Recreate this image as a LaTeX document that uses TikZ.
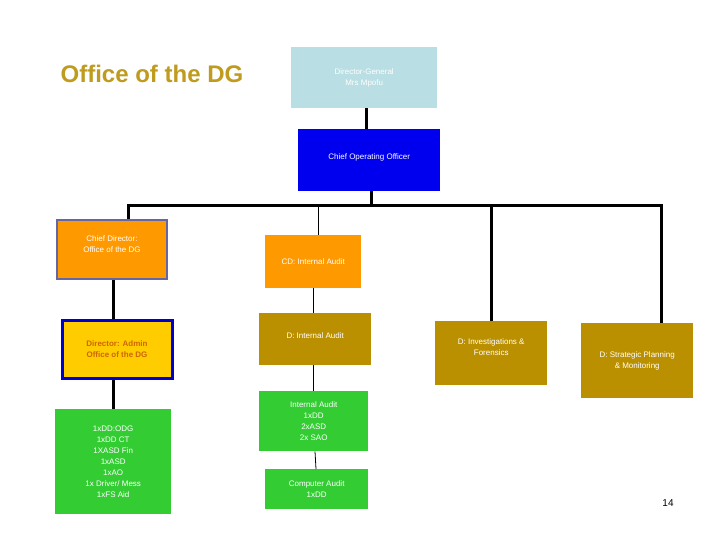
\documentclass[tikz,border=0pt]{standalone}
\usepackage{fontspec}
\setmainfont{Liberation Sans}
\definecolor{gold}{HTML}{BF9B1E}
\definecolor{lblue}{HTML}{B9DEE3}
\definecolor{cblue}{HTML}{0000EE}
\definecolor{orng}{HTML}{FF9900}
\definecolor{yel}{HTML}{FFCC00}
\definecolor{brn}{HTML}{BB9000}
\definecolor{grn}{HTML}{33CC33}
\begin{document}
\begin{tikzpicture}[x=1pt,y=-1pt,
  box/.style={minimum width=#1,inner sep=1pt,align=center,text=white,font=\fontsize{8}{11}\selectfont,anchor=north west},
  thick line/.style={line width=3pt},
  thin line/.style={line width=0.8pt}]
\useasboundingbox[fill=white] (0,0) rectangle (720,540);
\node[font=\bfseries\fontsize{24}{28}\selectfont,text=gold] (title) at (152,74) {Office of the DG};
\node[fill=lblue,box=146pt,minimum height=61pt] (dg) at (291,47) {Director-General\\Mrs Mpofu};
\node[fill=cblue,box=142pt,minimum height=62pt,text depth=8pt] (coo) at (298,129) {Chief Operating Officer};
\node[fill=orng,draw=black!60!blue!60,line width=2pt,box=110pt,minimum height=59pt,text depth=10pt] (cdodg) at (56,219) {Chief Director:\\Office of the DG};
\node[fill=yel,draw=blue!80!black,line width=3pt,box=110pt,minimum height=58pt,text=orange!80!black,font=\bfseries\fontsize{8}{11}\selectfont] (adm) at (60.5,318.5) {Director: Admin\\Office of the DG};
\node[fill=grn,box=116pt,minimum height=105pt] (staff) at (55,409) {1xDD:ODG\\1xDD CT\\1XASD Fin\\1xASD\\1xAO\\1x Driver/ Mess\\1xFS Aid};
\node[fill=orng,box=96pt,minimum height=53pt,text depth=-6pt] (cdia) at (265,235) {CD: Internal Audit};
\node[fill=brn,box=112pt,minimum height=52pt,text depth=8pt] (dia) at (259,313) {D: Internal Audit};
\node[fill=grn,box=109pt,minimum height=60pt] (ia) at (259,391) {Internal Audit\\1xDD\\2xASD\\2x SAO};
\node[fill=grn,box=103pt,minimum height=40pt] (ca) at (265,469) {Computer Audit\\1xDD};
\node[fill=brn,box=112pt,minimum height=64pt,text depth=12pt] (inv) at (435,321) {D: Investigations \&\\Forensics};
\node[fill=brn,box=112pt,minimum height=75pt] (sp) at (581,323) {D: Strategic Planning\\\& Monitoring};
\node[font=\fontsize{10}{12}\selectfont] (pg) at (668,503) {14};
\coordinate (b1) at (371,206);
\coordinate (bl) at (127,206);
\coordinate (br) at (663,206);
\draw[thick line] (dg.south -| 366,0) -- (coo.north -| 366,0);
\draw[thick line] (coo.south -| 371,0) -- (b1);
\draw[thick line] (bl) -- (br);
\draw[thick line] (128,206) -- (cdodg.north -| 128,0);
\draw[thin line] (318,206) -- (cdia.north -| 318,0);
\draw[thick line] (491,206) -- (inv.north -| 491,0);
\draw[thick line] (661,206) -- (sp.north -| 661,0);
\draw[thick line] (cdodg.south -| 113,0) -- (adm.north -| 113,0);
\draw[thick line] (adm.south -| 113,0) -- (staff.north -| 113,0);
\draw[thin line] (cdia.south -| 313,0) -- (dia.north -| 313,0);
\draw[thin line] (dia.south -| 313,0) -- (ia.north -| 313,0);
\draw[thin line] (ia.south -| 315,0) -- (ca.north -| 316,0);
\end{tikzpicture}
\end{document}
